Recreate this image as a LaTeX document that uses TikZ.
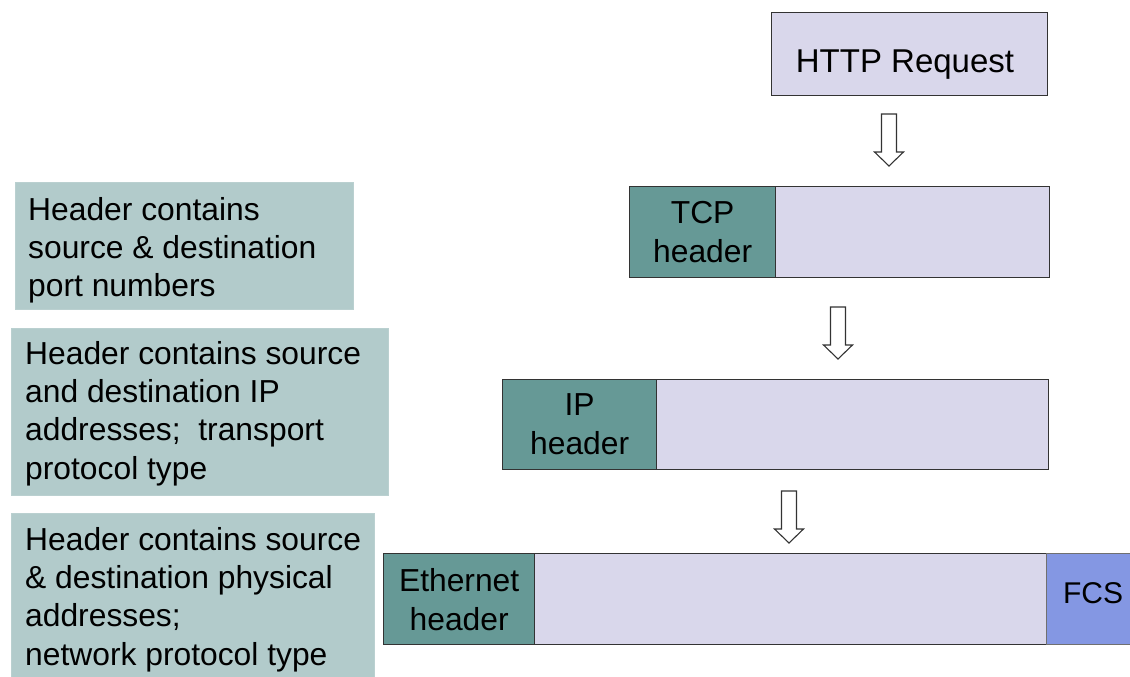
\documentclass[tikz,border=0pt]{standalone}
\usepackage{fontspec}
\setmainfont{Liberation Sans}
\definecolor{bodyc}{HTML}{D9D7EB}
\definecolor{hdrc}{HTML}{669996}
\definecolor{leftc}{HTML}{B2CBCB}
\definecolor{fcsc}{HTML}{8497E3}
\definecolor{framec}{HTML}{333333}
\begin{document}
\begin{tikzpicture}[x=1pt,y=-1pt,
  body/.style={draw=framec, line width=1.3pt, fill=bodyc, inner sep=0pt, anchor=north west},
  hdr/.style={draw=framec, line width=1.3pt, fill=hdrc, inner sep=0pt, anchor=north west,
              font=\fontsize{31.8}{39}\selectfont, align=center},
  fcs/.style={draw=framec!70, line width=0.8pt, fill=fcsc, inner sep=0pt, anchor=north west},
  leftbox/.style={fill=leftc, draw=leftc!90!white, line width=0.6pt, inner sep=0pt, anchor=north west},
  lefttext/.style={anchor=base west, inner sep=0pt, font=\fontsize{31.8}{38.4}\selectfont},
  bigtext/.style={anchor=base, inner sep=0pt, font=\fontsize{33}{38}\selectfont},
  downarr/.pic={\draw[fill=white, draw=black!80, line width=1.1pt, line join=miter]
     (-7.5,0) -- (7.5,0) -- (7.5,38) -- (14.5,38) -- (0,52) -- (-14.5,38) -- (-7.5,38) -- cycle;}
]
\useasboundingbox (0,0) rectangle (1130,677);
\clip (0,0) rectangle (1130,677);

% left explanation boxes
\node[leftbox, minimum width=338, minimum height=127] (b1) at (15,182) {};
\node[leftbox, minimum width=377, minimum height=167] (b2) at (11,328) {};
\node[leftbox, minimum width=363, minimum height=200] (b3) at (11,513) {};
\node[lefttext] (t1) at (28,220) {\vtop{\hbox{Header contains}\hbox{source \& destination}\hbox{port numbers}}};
\node[lefttext] (t2) at (25,364) {\vtop{\hbox{Header contains source}\hbox{and destination IP}\hbox{addresses;~~transport}\hbox{protocol type}}};
\node[lefttext] (t3) at (25,550) {\vtop{\hbox{Header contains source}\hbox{\& destination physical}\hbox{addresses;}\hbox{network protocol type}}};

% HTTP request
\node[body, minimum width=276, minimum height=83] (http) at (771,12) {};
\node[bigtext] (httpt) at (905,73) {HTTP Request};

% TCP segment
\node[body, minimum width=420, minimum height=91] (tcp) at (629,186) {};
\node[hdr, minimum width=146, minimum height=91] (tcph) at (629,186) {TCP\\header};

% IP packet
\node[body, minimum width=546, minimum height=90] (ip) at (502,379) {};
\node[hdr, minimum width=154, minimum height=90] (iph) at (502,379) {IP\\header};

% Ethernet frame
\node[body, minimum width=663, minimum height=91] (eth) at (383,553) {};
\node[hdr, minimum width=151, minimum height=91] (ethh) at (383,553) {Ethernet\\header};
\node[fcs, minimum width=94, minimum height=91] (fcs) at (1046,553) {};
\node[anchor=base, inner sep=0pt, font=\fontsize{30}{36}\selectfont] (fcst) at (1093,603) {FCS};

% block arrows
\coordinate (a1) at (889,114);
\coordinate (a2) at (838,307);
\coordinate (a3) at (789,491);
\pic at (a1) {downarr};
\pic at (a2) {downarr};
\pic at (a3) {downarr};
\end{tikzpicture}
\end{document}
